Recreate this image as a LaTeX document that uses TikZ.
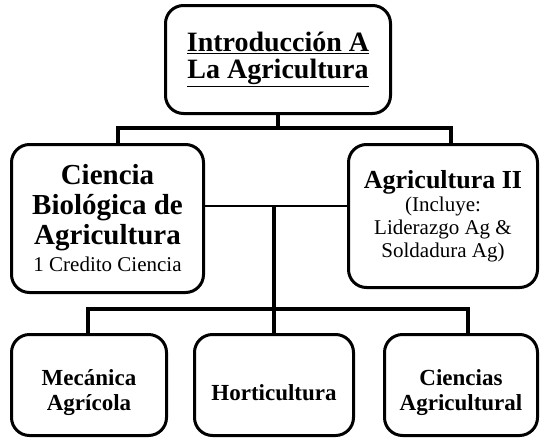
\documentclass[tikz,border=0pt]{standalone}
\usepackage{fontspec}
\setmainfont{Liberation Serif}
\begin{document}
\begin{tikzpicture}[x=1pt, y=-1pt,
  box/.style={draw, line width=3pt, rounded corners=18pt, align=center, inner sep=0pt},
  bus/.style={line width=3.5pt},
  midbus/.style={line width=2.5pt}]
  \useasboundingbox (0,0) rectangle (540,439);
  % Boxes
  \node[box, minimum width=225pt, minimum height=108pt, font=\bfseries\fontsize{28}{27}\selectfont] (intro) at (278,59.5)
    {\underline{Introducción A}\\\underline{La Agricultura}};
  \node[box, minimum width=192pt, minimum height=148pt, font=\bfseries\fontsize{29}{30}\selectfont] (bio) at (107.5,218.5)
    {Ciencia\\Biológica de\\Agricultura\\[-3pt]{\normalfont\fontsize{21}{24}\selectfont 1 Credito Ciencia}};
  \node[box, minimum width=189pt, minimum height=143pt, font=\fontsize{21}{23}\selectfont] (agri) at (443,216)
    {{\bfseries\fontsize{26}{24}\selectfont Agricultura II}\\(Incluye:\\Liderazgo Ag \&\\Soldadura Ag)};
  \foreach \n/\x/\w/\t in {meca/89/155/{Mecánica\\Agrícola}, horti/274/159/{Horticultura}, cienc/461/153/{Ciencias\\Agricultural}}
    \node[box, minimum width=\w pt, minimum height=101pt, font=\bfseries\fontsize{23}{25}\selectfont] (\n) at (\x,385) {\rule{0pt}{31pt}\t};
  % Connectors
  \coordinate (busL) at (118,128);
  \coordinate (busR) at (451,128);
  \coordinate (mid) at (274,206);
  \coordinate (lowL) at (88,309);
  \coordinate (lowR) at (468,309);
  \draw[bus] (intro.south) -- (intro.south |- busL);
  \draw[bus] (bio.north -| busL) |- (busR) -- (agri.north -| busR);
  \draw[midbus] (bio.east |- mid) -- (agri.west |- mid);
  \draw[bus] (mid) -- (horti.north -| mid);
  \draw[bus] (meca.north -| lowL) |- (lowR) -- (cienc.north -| lowR);
\end{tikzpicture}
\end{document}
